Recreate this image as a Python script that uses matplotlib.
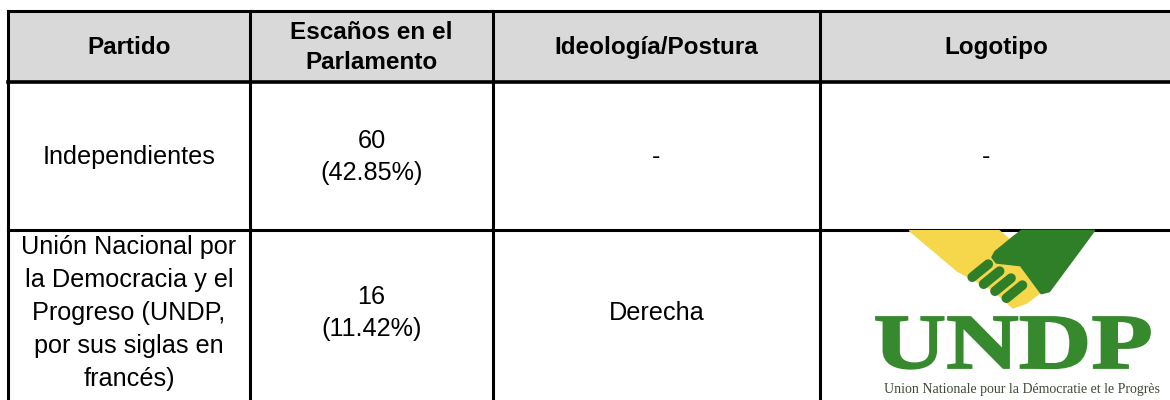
import matplotlib
matplotlib.use("Agg")
import matplotlib.pyplot as plt
from matplotlib.patches import Rectangle, Polygon, PathPatch
from matplotlib.textpath import TextPath
from matplotlib.font_manager import FontProperties
from matplotlib.transforms import Affine2D

# ---- data ----
headers = ["Partido", "Escaños en el\nParlamento", "Ideología/Postura", "Logotipo"]
parties = ["Independientes",
           "Unión Nacional por\nla Democracia y el\nProgreso (UNDP,\npor sus siglas en\nfrancés)"]
seats = [60, 16]
seat_pct = ["42.85%", "11.42%"]
ideology = ["-", "Derecha"]
logos = ["-", "UNDP"]
logo_caption = "Union Nationale pour la Démocratie et le Progrès"

# ---- layout (pixels) ----
W, H = 1170, 400
col_x = [8, 250, 493, 820, 1172]
row_y = [11, 82, 230, 402]

fig = plt.figure(figsize=(W / 100, H / 100), dpi=100)
ax = fig.add_axes([0, 0, 1, 1])
ax.set_xlim(0, W)
ax.set_ylim(H, 0)
ax.axis("off")

FONT = "Liberation Sans"
FS_H = 17.5
FS = 18.2

# header background
ax.add_patch(Rectangle((col_x[0], row_y[0]), col_x[-1] - col_x[0], row_y[1] - row_y[0],
                       facecolor="#d9d9d9", edgecolor="none", zorder=0))

# header texts
for i, h in enumerate(headers):
    cx = (col_x[i] + col_x[i + 1]) / 2
    ax.text(cx, (row_y[0] + row_y[1]) / 2 + 1, h, ha="center", va="center",
            fontsize=FS_H, fontweight="bold", family=FONT, linespacing=1.38, zorder=3)

# body rows
row_centres = [157, 313]
row_ls = [1.43, 1.47]
for r in range(len(parties)):
    cy = row_centres[r]
    cells = [parties[r], f"{seats[r]}\n({seat_pct[r]})", ideology[r]]
    for i, t in enumerate(cells):
        cx = (col_x[i] + col_x[i + 1]) / 2
        ax.text(cx, cy, t, ha="center", va="center", fontsize=FS, family=FONT,
                linespacing=row_ls[r] if i == 0 else 1.43, zorder=3)
    if logos[r] == "-":
        cx = (col_x[3] + col_x[4]) / 2 - 10
        ax.text(cx, cy, "-", ha="center", va="center", fontsize=FS, family=FONT, zorder=3)

# grid lines
lw = 2.2
for x in col_x[:-1]:
    ax.plot([x, x], [row_y[0], row_y[-1]], color="black", lw=lw, zorder=4,
            solid_capstyle="projecting")
for j, y in enumerate(row_y):
    ax.plot([col_x[0], W + 5], [y, y], color="black", lw=2.6 if j == 1 else lw, zorder=4,
            solid_capstyle="projecting")

# ---- UNDP logo (row 2, column 4) ----
yellow = "#f6d64a"
green = "#2f7f28"


def logo_pt(zx, zy):
    # logo sketch coordinates -> pixel coordinates
    return (806 + zx * 0.345, 228 + zy / 3.0)


yellow_shape = [(300, 8), (560, 8), (640, 80), (700, 160), (690, 185), (640, 225),
                (600, 240), (540, 185), (440, 130)]
green_shape = [(625, 8), (835, 8), (705, 190), (682, 196), (622, 112), (552, 104),
               (540, 88), (548, 72), (600, 28)]
ax.add_patch(Polygon([logo_pt(*p) for p in yellow_shape], closed=True,
                     facecolor=yellow, edgecolor=yellow, lw=1, joinstyle="round", zorder=6))
ax.add_patch(Polygon([logo_pt(*p) for p in green_shape], closed=True,
                     facecolor=green, edgecolor=green, lw=1.5, joinstyle="round", zorder=7))
for k in range(4):
    cx, cy = logo_pt(505 + k * 33, 128 + k * 21)
    ax.plot([cx - 8, cx + 8], [cy + 6.5, cy - 6.5], color=green, lw=7,
            solid_capstyle="round", zorder=8)

# UNDP letters (stretched slab serif)
tp = TextPath((0, 0), logos[1], size=1,
              prop=FontProperties(family="Liberation Serif", weight="bold"))
ext = tp.get_extents()
tx0, tx1, top, base = 876, 1150, 317, 368
sx = (tx1 - tx0) / ext.width
sy = (base - top) / ext.ymax
tr = Affine2D().translate(-ext.xmin, 0).scale(sx, -sy).translate(tx0, base)
ax.add_patch(PathPatch(tr.transform_path(tp), facecolor="#37892d", edgecolor="#37892d",
                       lw=1.3, zorder=8))

ax.text((884 + 1160) / 2, 390, logo_caption, ha="center", va="center", fontsize=10.0,
        family="Liberation Serif", color="#3e4a35", zorder=8)

fig.savefig("out.png", dpi=100)
